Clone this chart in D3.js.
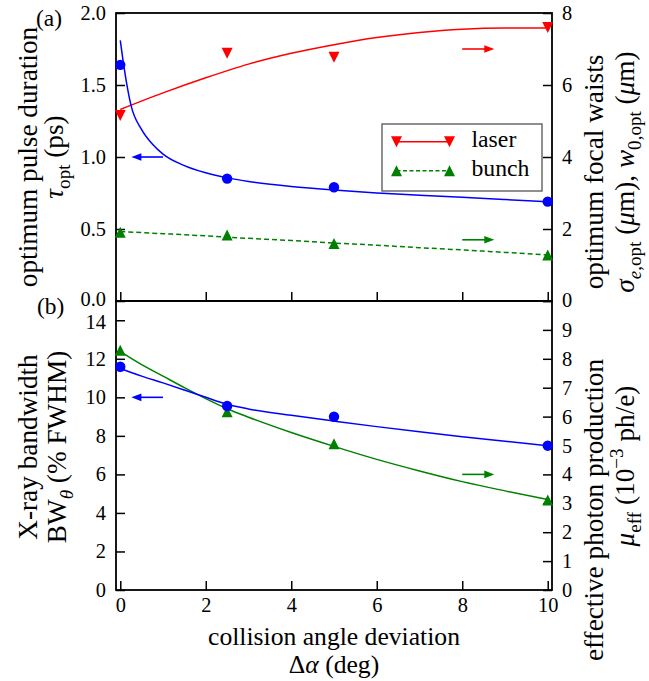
<!DOCTYPE html>
<html><head><meta charset="utf-8">
<script src="https://cdn.jsdelivr.net/npm/d3@7"></script>
<style>
body{margin:0;background:#fff}
svg{display:block}
</style>
</head><body>
<script>
// ---- data ----
const xPts = [0, 2.5, 5, 10];
const tauOpt = [1.64, 0.85, 0.79, 0.69];
const laserWaist = [5.15, 6.88, 6.77, 7.6];
const bunchWaist = [1.91, 1.83, 1.6, 1.28];
const bandwidth = [11.59, 9.55, 8.99, 7.49];
const photonYield = [8.3, 6.17, 5.06, 3.11];

const fitXTau = [0, 0.1, 0.25, 0.5, 0.75, 1, 1.5, 2, 2.5, 3, 4, 5, 6, 7, 8, 9, 10];
const tauFit = [1.81, 1.60, 1.36, 1.19, 1.09, 1.02, 0.94, 0.89, 0.855, 0.83, 0.795, 0.77, 0.75, 0.735, 0.72, 0.705, 0.69];
const fitXWaist = [0, 1, 2, 3, 4, 5, 6, 7, 8, 9, 10];
const laserFit = [5.32, 5.78, 6.2, 6.58, 6.88, 7.12, 7.32, 7.46, 7.55, 7.58, 7.58];
const bunchFit = [1.93, 1.87, 1.81, 1.74, 1.68, 1.61, 1.55, 1.48, 1.42, 1.35, 1.28];
const fitXBot = [0, 0.5, 1, 1.5, 2, 2.5, 3, 4, 5, 6, 7, 8, 9, 10];
const bandwidthFit = [11.5, 11.1, 10.75, 10.38, 10.0, 9.64, 9.4, 9.07, 8.77, 8.48, 8.21, 7.96, 7.72, 7.49];
const photonFit = [8.25, 7.8, 7.4, 7.0, 6.62, 6.27, 5.98, 5.45, 4.97, 4.52, 4.12, 3.75, 3.43, 3.13];

const xTicks = [0, 2, 4, 6, 8, 10];
const tauTicks = [0, 0.5, 1, 1.5, 2];
const waistTicks = [0, 2, 4, 6, 8];
const bwTicks = [0, 2, 4, 6, 8, 10, 12, 14];
const muTicks = [0, 1, 2, 3, 4, 5, 6, 7, 8, 9, 10];
const legendLabels = ['laser', 'bunch'];

// arrows: [x start, x end, y value]
const arrowTau = [1.0, 0.26, 1.0];
const arrowLaser = [8.0, 8.75, 7.0];
const arrowBunch = [8.0, 8.75, 1.7];
const arrowBw = [1.0, 0.26, 10.0];
const arrowMu = [8.0, 8.75, 4.0];

// ---- font selection & sizing ----
const cvs = document.createElement('canvas').getContext('2d');
function textW(str, fam, size) { cvs.font = `${size}px ${fam}`; return cvs.measureText(str).width; }
function hasFont(name) {
  const s = 'abcdefghijklmnopqrstuvwxyz0123456789';
  return ['monospace', 'sans-serif'].every(fb => Math.abs(textW(s, `"${name}",${fb}`, 100) - textW(s, fb, 100)) > 0.5);
}
const FAM_NAME = ['Liberation Serif', 'DejaVu Serif'].find(hasFont);
const FAM = FAM_NAME ? `"${FAM_NAME}",serif` : 'serif';
const fit = (str, target) => 100 * target / textW(str, FAM, 100);
const TITLE = fit('collision angle deviation', 268);
const XTITLE = fit('collision angle deviation', 252);
const TICK = fit('2.0', 25.5);
const LEG = fit('bunch', 58);
const PANEL = fit('(a)', 26);

// ---- layout ----
const W = 649, H = 681;
const L = 116, R = 552, T1 = 13, B1 = 301, T2 = 301, B2 = 590;
const BLUE = '#0000ff', RED = '#ff0000', GREEN = '#008000';

const svg = d3.select('body').append('svg').attr('width', W).attr('height', H);

const x = d3.scaleLinear().domain([-0.1, 10.1]).range([L, R]);
const yTau = d3.scaleLinear().domain([0, 2]).range([B1, T1]);
const yWaist = d3.scaleLinear().domain([0, 8]).range([B1, T1]);
const yBw = d3.scaleLinear().domain([0, 15]).range([B2, T2]);
const yMu = d3.scaleLinear().domain([0, 10]).range([B2, T2]);

function styleAxis(g, showLabels) {
  g.select('.domain').remove();
  g.attr('font-size', TICK);
  g.selectAll('.tick line').attr('stroke', '#000').attr('stroke-width', 1.5);
  g.selectAll('.tick text').attr('fill', '#000').style('font-size', TICK + 'px');
  if (!showLabels) g.selectAll('.tick text').remove();
}

// axes - top panel
svg.append('g').attr('transform', `translate(${L},0)`)
  .call(d3.axisLeft(yTau).tickValues(tauTicks).tickSize(-9).tickPadding(10).tickFormat(d3.format('.1f')))
  .call(g => styleAxis(g, true))
  .call(g => g.selectAll('.tick text').filter(d => d === 0).attr('dy', '0.2em'));
svg.append('g').attr('transform', `translate(${R},0)`)
  .call(d3.axisRight(yWaist).tickValues(waistTicks).tickSize(-9).tickPadding(10).tickFormat(d3.format('d')))
  .call(g => styleAxis(g, true))
  .call(g => g.selectAll('.tick text').filter(d => d === 0).attr('dy', '0.25em'));
svg.append('g').attr('transform', `translate(0,${B1})`)
  .call(d3.axisBottom(x).tickValues(xTicks).tickSize(-9))
  .call(g => styleAxis(g, false));
// axes - bottom panel
svg.append('g').attr('transform', `translate(${L},0)`)
  .call(d3.axisLeft(yBw).tickValues(bwTicks).tickSize(-9).tickPadding(10).tickFormat(d3.format('d')))
  .call(g => styleAxis(g, true))
  .call(g => g.selectAll('.tick text').filter(d => d === 14).attr('dy', '0.42em'));
svg.append('g').attr('transform', `translate(${R},0)`)
  .call(d3.axisRight(yMu).tickValues(muTicks).tickSize(-9).tickPadding(10).tickFormat(d => d === 10 ? '' : d))
  .call(g => styleAxis(g, true));
svg.append('g').attr('transform', `translate(0,${B2})`)
  .call(d3.axisBottom(x).tickValues(xTicks).tickSize(-9).tickPadding(8))
  .call(g => styleAxis(g, true));

// frames
[[T1, B1], [T2, B2]].forEach(([t, b]) => {
  svg.append('rect').attr('x', L).attr('y', t).attr('width', R - L).attr('height', b - t)
    .attr('fill', 'none').attr('stroke', '#000').attr('stroke-width', 1.8);
});

// ---- marks ----
function curve(xs, ys, ys2, color, dash) {
  const line = d3.line().x((d, i) => x(xs[i])).y(d => ys2(d)).curve(d3.curveMonotoneX);
  svg.append('path').attr('d', line(ys)).attr('fill', 'none').attr('stroke', color)
    .attr('stroke-width', 1.5).attr('stroke-dasharray', dash || null);
}
function triPath(s, down) {
  const h = s / 2;
  return down ? `M${-h},${-h}L${h},${-h}L0,${h}Z` : `M0,${-h}L${h},${h}L${-h},${h}Z`;
}
function markers(vals, ys, color, shape) {
  vals.forEach((v, i) => {
    const cx = x(xPts[i]), cy = ys(v);
    if (shape === 'circle') svg.append('circle').attr('cx', cx).attr('cy', cy).attr('r', 5.2).attr('fill', color);
    else svg.append('path').attr('d', triPath(11, shape === 'down')).attr('transform', `translate(${cx},${cy})`).attr('fill', color);
  });
}
function arrow(a, ys, color) {
  const x0 = x(a[0]), x1 = x(a[1]), yy = ys(a[2]);
  const dir = Math.sign(x1 - x0), hl = 10, hw = 3.8;
  svg.append('line').attr('x1', x0).attr('x2', x1 - dir * hl * 0.8).attr('y1', yy).attr('y2', yy)
    .attr('stroke', color).attr('stroke-width', 1.6);
  svg.append('path').attr('d', `M${x1},${yy}L${x1 - dir * hl},${yy - hw}L${x1 - dir * hl},${yy + hw}Z`).attr('fill', color);
}

// top panel
curve(fitXWaist, bunchFit, yWaist, GREEN, '5,3');
curve(fitXWaist, laserFit, yWaist, RED);
curve(fitXTau, tauFit, yTau, BLUE);
markers(bunchWaist, yWaist, GREEN, 'up');
markers(laserWaist, yWaist, RED, 'down');
markers(tauOpt, yTau, BLUE, 'circle');
arrow(arrowTau, yTau, BLUE);
arrow(arrowLaser, yWaist, RED);
arrow(arrowBunch, yWaist, GREEN);

// bottom panel
curve(fitXBot, photonFit, yMu, GREEN);
curve(fitXBot, bandwidthFit, yBw, BLUE);
markers(photonYield, yMu, GREEN, 'up');
markers(bandwidth, yBw, BLUE, 'circle');
arrow(arrowBw, yBw, BLUE);
arrow(arrowMu, yMu, GREEN);

// legend
const lg = svg.append('g');
lg.append('rect').attr('x', 382).attr('y', 124).attr('width', 160).attr('height', 67)
  .attr('fill', '#fff').attr('stroke', '#6b6b6b').attr('stroke-width', 1.5);
[[RED, null, 'down', 141.7], [GREEN, '4,2.5', 'up', 170.7]].forEach(([c, dash, sh, yy], i) => {
  lg.append('line').attr('x1', 396.5).attr('x2', 449.5).attr('y1', yy).attr('y2', yy)
    .attr('stroke', c).attr('stroke-width', 1.5).attr('stroke-dasharray', dash);
  [396.5, 449.5].forEach(px => lg.append('path').attr('d', triPath(11, sh === 'down'))
    .attr('transform', `translate(${px},${yy})`).attr('fill', c));
  lg.append('text').attr('x', 471.5).attr('y', yy + 5.5).style('font-size', LEG + 'px').attr('fill', '#000').text(legendLabels[i]);
});

// ---- text ----
function rich(sel, parts, size) {
  let cur = 0;
  parts.forEach(p => {
    const target = p.sub ? size * 0.25 : p.sup ? -size * 0.4 : 0;
    const ts = sel.append('tspan').text(p.t);
    if (p.i) ts.style('font-style', 'italic');
    if (p.sub || p.sup) ts.style('font-size', (size * 0.7) + 'px');
    if (target !== cur) ts.attr('dy', target - cur);
    cur = target;
  });
}
function label(px, py, rot, parts, size) {
  const t = svg.append('text').attr('transform', `translate(${px},${py})` + (rot ? ' rotate(-90)' : ''))
    .attr('text-anchor', 'middle').style('font-size', size + 'px').attr('fill', '#000');
  rich(t, parts, size);
}

label(36.5, 157, true, [{t: 'optimum pulse duration'}], TITLE);
label(63, 157, true, [{t: 'τ', i: 1}, {t: 'opt', sub: 1}, {t: ' (ps)'}], TITLE);
label(36.5, 447, true, [{t: 'X-ray bandwidth'}], TITLE);
label(66, 447, true, [{t: 'BW'}, {t: 'θ', i: 1, sub: 1}, {t: ' (% FWHM)'}], TITLE);
label(603, 172, true, [{t: 'optimum focal waists'}], TITLE);
label(634, 172, true, [{t: 'σ', i: 1}, {t: 'e', i: 1, sub: 1}, {t: ',opt', sub: 1}, {t: ' ('}, {t: 'μ', i: 1}, {t: 'm), '},
  {t: 'w', i: 1}, {t: '0,opt', sub: 1}, {t: ' ('}, {t: 'μ', i: 1}, {t: 'm)'}], TITLE);
label(603, 510, true, [{t: 'effective photon production'}], TITLE);
label(634, 466, true, [{t: 'μ', i: 1}, {t: 'eff', sub: 1}, {t: ' (10'}, {t: '−3', sup: 1}, {t: ' ph/e)'}], TITLE);
label(334, 644.5, false, [{t: 'collision angle deviation'}], XTITLE);
label(334, 673, false, [{t: 'Δ'}, {t: 'α', i: 1}, {t: ' (deg)'}], XTITLE);

svg.append('text').attr('x', 36).attr('y', 26).style('font-size', PANEL + 'px').attr('fill', '#000').text('(a)');
svg.append('text').attr('x', 37).attr('y', 314).style('font-size', PANEL + 'px').attr('fill', '#000').text('(b)');

// apply the serif family directly on every text element
svg.selectAll('text, tspan').style('font-family', FAM);
</script>
</body></html>
